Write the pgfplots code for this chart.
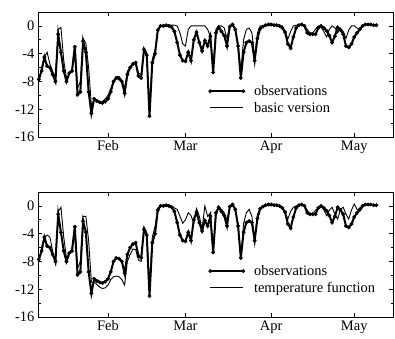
\documentclass[border=0pt]{standalone}
\usepackage{pgfplots}
\pgfplotsset{compat=1.18}
\usepackage{pgfplotstable}
\usepackage{fontspec}
\setmainfont{Liberation Serif}

\pgfplotstableread{
day obs bv tf
7 -7.7 -8.0 -8.0
8 -6.5 -6.0 -6.0
9 -4.5 -4.5 -4.5
10 -5.8 -3.8 -4.2
11 -6.0 -5.5 -4.5
12 -7.0 -6.5 -6.5
13 -8.0 -7.5 -8.3
14 -1.2 -0.5 -0.8
15 -3.8 -0.2 -0.2
16 -6.5 -5.0 -4.5
17 -8.0 -7.5 -7.5
18 -6.8 -7.0 -6.8
19 -6.5 -6.2 -6.0
20 -3.0 -2.8 -3.0
21 -9.9 -9.0 -9.0
22 -9.5 -8.0 -8.0
23 -2.2 -1.8 -1.5
24 -3.8 -2.5 -1.5
25 -9.5 -6.0 -5.0
26 -12.6 -11.5 -11.0
27 -10.5 -10.6 -11.0
28 -10.8 -10.8 -11.3
29 -11.0 -11.0 -11.7
30 -11.1 -10.9 -11.9
31 -10.9 -10.5 -11.8
32 -10.5 -10.0 -11.4
33 -9.5 -9.0 -10.6
34 -8.0 -8.0 -10.2
35 -7.5 -7.3 -10.1
36 -7.6 -7.3 -10.2
37 -8.0 -7.8 -10.6
38 -9.7 -9.0 -11.4
39 -7.0 -6.5 -8.0
40 -6.0 -6.0 -7.0
41 -5.5 -5.3 -6.2
42 -5.3 -5.2 -6.3
43 -7.2 -6.8 -7.8
44 -7.5 -7.0 -8.0
45 -3.4 -3.2 -3.0
46 -4.2 -3.8 -3.8
47 -13.0 -12.5 -11.5
48 -5.3 -4.8 -4.5
49 -4.0 -3.5 -3.0
50 -0.6 -0.5 -0.3
51 0 0 0
52 0 0.1 0.1
53 0.1 0.1 0.1
54 0 0.1 0.1
55 -0.2 0.1 0
56 -0.8 0.1 -0.3
57 -2.4 0 -0.5
58 -4.2 -1.0 -1.5
59 -5.0 -2.6 -2.5
60 -5.1 -2.9 -2.0
61 -3.8 -0.5 -1.0
62 -5.0 0 -1.4
63 -2.0 0 -2.5
64 -0.9 0 -0.4
65 -2.4 0 -1.5
66 -3.6 0 -3.3
67 -2.1 0 0
68 -2.9 -0.5 -1.5
69 -1.5 -1.5 -1.0
70 -6.7 -6.0 -6.6
71 -1.0 -0.5 -1.4
72 -0.2 0 -0.2
73 -0.8 0 -0.5
74 -1.4 -0.3 -1.0
75 -2.9 -1.8 -2.0
76 -0.1 0 -0.2
77 0.2 0.1 0
78 -0.5 -0.5 -0.5
79 -2.9 -2.5 -2.5
80 -7.5 -6.5 -7.6
81 -3.8 -2.0 -2.5
82 -2.4 -0.5 -1.0
83 -2.2 -0.3 -0.5
84 -2.4 -1.0 -1.5
85 -5.0 -4.5 -5.0
86 -1.8 -1.0 -1.2
87 -0.4 0 -0.5
88 -0.1 0 0
89 0.1 0.1 0.1
90 0.2 0.1 0.1
91 0.2 0.1 0.1
92 0.1 0.1 0.1
93 0.1 0 0
94 0 0 0
95 -0.3 0 -0.3
96 -0.9 -0.8 -1.0
97 -2.6 -1.9 -1.9
98 -3.2 -0.8 -0.8
99 -1.6 0 -0.2
100 -0.3 0.1 0
101 0.1 0.1 0.1
102 0.2 0.1 0.1
103 0 0 0
104 -1.0 -0.5 -0.6
105 -1.2 -1.0 -1.2
106 -1.2 -1.0 -1.2
107 -1.2 -0.5 -0.6
108 -0.3 0 -0.3
109 0 -0.2 0
110 -0.3 -0.8 -0.6
111 -0.7 -1.6 -1.4
112 -1.4 -0.5 -0.6
113 -2.4 0 -0.2
114 -1.5 -0.3 -1.2
115 -0.2 -1.0 -1.9
116 -0.6 -0.3 -0.5
117 -1.2 -0.8 -0.2
118 -2.9 -1.8 -1.2
119 -3.1 -0.6 -1.9
120 -2.6 0 -0.6
121 -1.6 0 0.3
122 -1.0 -0.3 -0.5
123 -0.5 -0.5 -0.8
124 0 0 -0.2
125 0.2 0.2 0.2
126 0.2 0.2 0.2
127 0.2 0.2 0.2
128 0.1 0.1 0.1
129 0.1 0.1 0.1
}\data

\pgfplotsset{
  panel/.style={
    scale only axis,
    width=355pt, height=125pt,
    xmin=6.7, xmax=135,
    ymin=-16, ymax=2,
    xtick={32,60,91,121},
    xticklabels={Feb,Mar,Apr,May},
    ytick={0,-4,-8,-12,-16},
    minor ytick={-2,-6,-10,-14},
    major tick length=4pt,
    minor tick length=2.5pt,
    tick style={black, line width=0.6pt},
    axis line style={line width=0.8pt},
    /pgf/number format/assume math mode=true,
    tick label style={font=\fontsize{14.5}{16}\selectfont},
    legend style={draw=none, fill=none, font=\fontsize{14.5}{17}\selectfont,
      at={(0.48,0.17)}, anchor=south west, row sep=1pt, column sep=7pt,
      inner sep=0pt, cells={anchor=west}},
    legend image code/.code={\draw[mark repeat=1,mark phase=1,#1] plot coordinates {(0pt,0pt) (33pt,0pt)};},
  },
  obsstyle/.style={black, line width=2pt, mark=*, mark size=1.7pt, mark options={solid, line width=0.5pt}},
  modstyle/.style={black, line width=0.9pt, mark=none},
}

\begin{document}
\begin{tikzpicture}
\begin{axis}[panel, name=top, at={(0pt,180pt)}, anchor=south west]
\addplot[obsstyle] table[x=day, y=obs] {\data};
\addlegendentry{observations}
\addplot[modstyle] table[x=day, y=bv] {\data};
\addlegendentry{basic version}
\end{axis}
\begin{axis}[panel, name=bot, at={(0pt,0pt)}, anchor=south west]
\addplot[obsstyle] table[x=day, y=obs] {\data};
\addlegendentry{observations}
\addplot[modstyle] table[x=day, y=tf] {\data};
\addlegendentry{temperature function}
\end{axis}
\pgfresetboundingbox
\path[use as bounding box] ([shift={(-38pt,-21pt)}]bot.south west) rectangle ([shift={(2pt,12pt)}]top.north east);
\end{tikzpicture}
\end{document}
